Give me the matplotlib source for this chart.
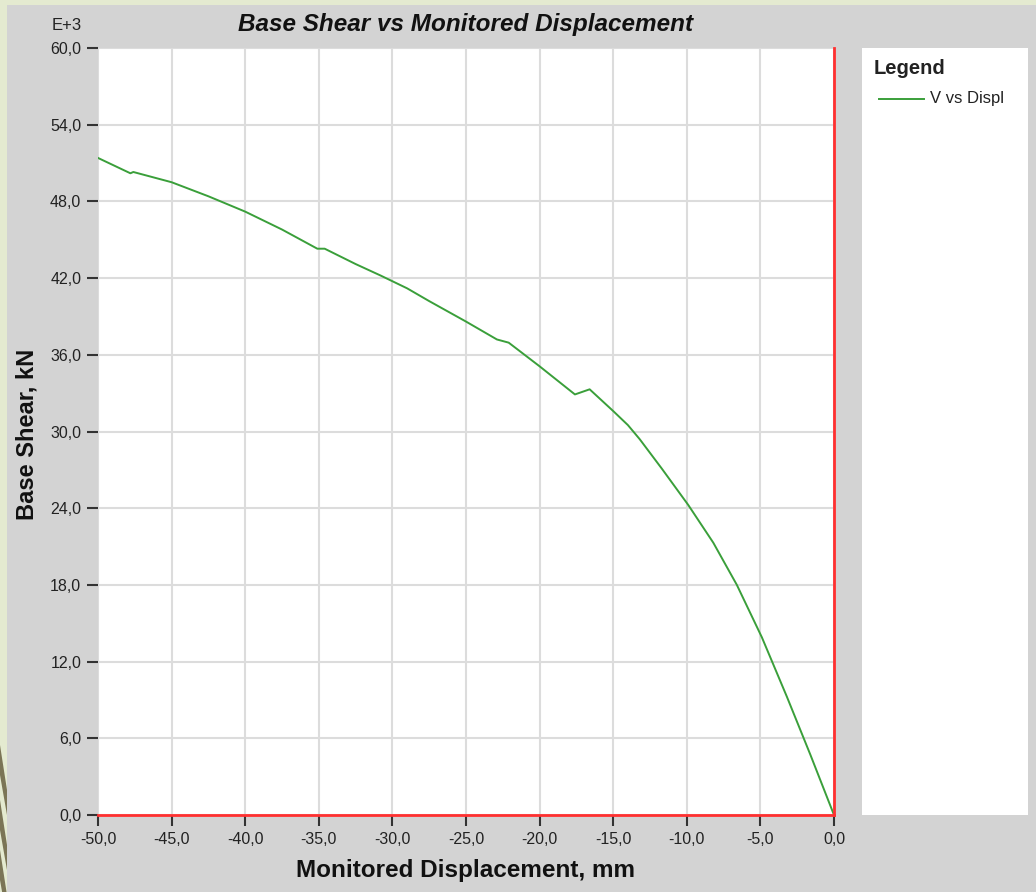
import matplotlib
matplotlib.use('Agg')
import matplotlib.pyplot as plt
from matplotlib.patches import Rectangle, Polygon
from matplotlib.ticker import FuncFormatter

plt.rcParams['font.family'] = ['Liberation Sans', 'DejaVu Sans']

# pushover curve (displacement mm, base shear kN / 1000)
displ = [-50.0, -47.8, -47.6, -45.0, -42.5, -40.0, -37.5, -35.1, -34.6, -32.5,
         -30.8, -29.0, -27.5, -25.0, -22.9, -22.1, -20.0, -17.6, -16.6, -15.0,
         -14.0, -13.2, -11.7, -9.9, -8.2, -6.6, -4.9, -3.2, -1.6, 0.0]
shear = [51.4, 50.2, 50.3, 49.5, 48.4, 47.2, 45.8, 44.3, 44.3, 43.1,
         42.2, 41.2, 40.2, 38.6, 37.2, 36.95, 35.1, 32.9, 33.3, 31.6,
         30.5, 29.4, 27.1, 24.25, 21.3, 18.0, 13.9, 9.25, 4.7, 0.0]
x_ticks = [-50, -45, -40, -35, -30, -25, -20, -15, -10, -5, 0]
y_ticks = [0, 6, 12, 18, 24, 30, 36, 42, 48, 54, 60]

W, H = 1036, 892
fig = plt.figure(figsize=(W / 100, H / 100), dpi=100)
fig.patch.set_facecolor('#e4ead0')

def fx(px):
    return px / W

def fy(py):
    return 1 - py / H

# gray chart panel and the slide decoration on the left edge
fig.patches.append(Rectangle((fx(7), 0), 1 - fx(7), fy(5), transform=fig.transFigure,
                             facecolor='#d3d3d3', edgecolor='none', zorder=0))
for y0 in [745, 800, 850]:
    fig.patches.append(Polygon([(0, fy(y0)), (fx(7), fy(y0 + 45)), (fx(7), fy(y0 + 70)), (0, fy(y0 + 30))],
                               closed=True, transform=fig.transFigure,
                               facecolor='#7b7556', edgecolor='none', zorder=0))

ax = fig.add_axes([fx(98), fy(815), fx(834) - fx(98), fy(48) - fy(815)])
ax.set_zorder(2)
ax.set_facecolor('white')
ax.plot(displ, shear, color='#3a9f3a', lw=1.4, zorder=3)

ax.set_xlim(-50, 0)
ax.set_ylim(0, 60)
ax.set_xticks(x_ticks)
ax.set_yticks(y_ticks)
comma = FuncFormatter(lambda v, p: f'{v:.1f}'.replace('.', ','))
ax.xaxis.set_major_formatter(comma)
ax.yaxis.set_major_formatter(comma)
ax.tick_params(direction='out', length=8, width=1.5, color='#333333', labelsize=11.5,
               labelcolor='#222222', pad=4)
ax.grid(True, color='#dcdcdc', lw=1.5)
ax.set_axisbelow(True)

for side in ['left', 'top']:
    ax.spines[side].set_visible(False)
for side in ['right', 'bottom']:
    ax.spines[side].set_color('#ff3030')
    ax.spines[side].set_linewidth(2)
    ax.spines[side].set_zorder(4)

fig.text(fx(67), fy(25), 'E+3', ha='center', va='center', fontsize=12, color='#222222')
fig.text(fx(466), fy(25), 'Base Shear vs Monitored Displacement', ha='center', va='center',
         fontsize=17.5, fontweight='bold', fontstyle='italic', color='#111111')
fig.text(fx(466), fy(870), 'Monitored Displacement, mm', ha='center', va='center',
         fontsize=17.5, fontweight='bold', color='#111111')
fig.text(fx(27), fy(434), 'Base Shear, kN', ha='center', va='center', rotation=90,
         fontsize=17, fontweight='bold', color='#111111')

# legend panel
fig.patches.append(Rectangle((fx(862), fy(815)), fx(1028) - fx(862), fy(48) - fy(815),
                             transform=fig.transFigure, facecolor='white', edgecolor='none', zorder=1))
fig.text(fx(874), fy(68), 'Legend', ha='left', va='center', fontsize=14.5,
         fontweight='bold', color='#222222')
fig.add_artist(plt.Line2D([fx(879), fx(924)], [fy(99), fy(99)], transform=fig.transFigure,
                          color='#3a9f3a', lw=1.4))
fig.text(fx(930), fy(99), 'V vs Displ', ha='left', va='center', fontsize=12, color='#222222')

plt.savefig('out.png', dpi=100, facecolor=fig.get_facecolor())
